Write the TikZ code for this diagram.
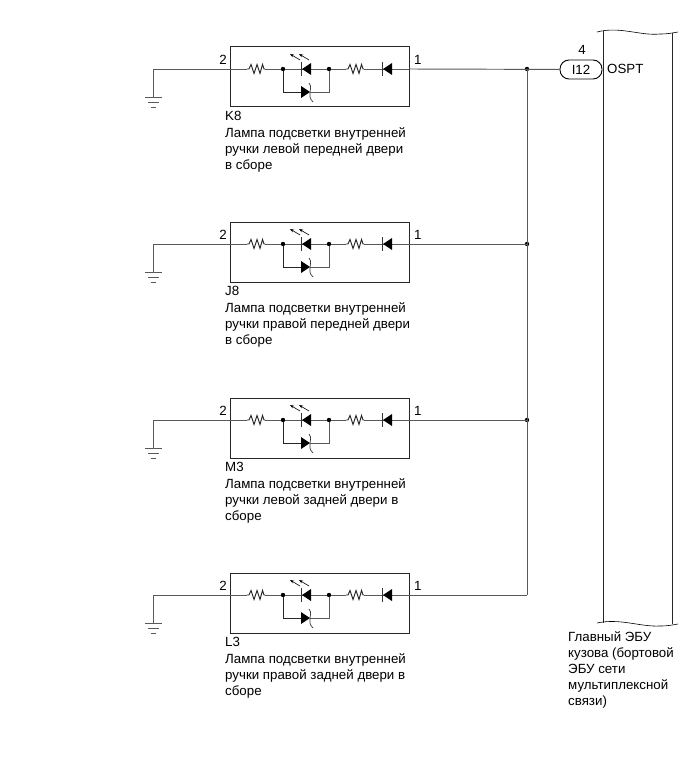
\documentclass[tikz,border=0pt]{standalone}
\usepackage{fontspec}
\setmainfont{Liberation Sans}
\usetikzlibrary{positioning, calc, arrows.meta}
\tikzset{
  wire/.style={line width=0.95pt, black!65},
  frame/.style={draw, line width=1pt, black!85},
  jdot/.style={circle, fill=black, inner sep=0pt, minimum size=4.4pt},
  lbl/.style={font=\fontsize{13.3}{16.2}\selectfont, inner sep=0pt, align=left},
  resist/.pic={\draw[wire, black!85] (0,0) -- (2,0) -- (4,-4.5) -- (7,4.5) -- (10,-4.5) -- (13,4.5) -- (15.5,-4.5) -- (17,0) -- (18,0);}
}
\begin{document}
\begin{tikzpicture}[x=1pt,y=-1pt]
  \useasboundingbox (0,0) rectangle (691,757);

  % Lamp units
  \foreach \yy/\nm/\side in {0/K8/{ручки левой передней двери\\в сборе},
      175/J8/{ручки правой передней двери\\в сборе},
      351/M3/{ручки левой задней двери в\\сборе},
      526/L3/{ручки правой задней двери в\\сборе}} {
    \begin{scope}[shift={(0,\yy)}]
      \node[frame, minimum width=179pt, minimum height=60pt, inner sep=0pt] (box\nm) at (319.5,77) {};
      \coordinate (pinb\nm) at (230,69);
      \coordinate (pina\nm) at (409,69);
      \coordinate (gnd\nm) at (153,97);
      \coordinate (tap\nm) at (527,69);
      \node[lbl, anchor=base east] (two\nm) at (227,64.5) {2};
      \node[lbl, anchor=base west] (one\nm) at (414,64.5) {1};

      % Ground
      \draw[wire] (pinb\nm) -| (gnd\nm);
      \draw[wire] (145,97) -- (162,97);
      \draw[wire] (147.5,102) -- (158.5,102);
      \draw[wire] (151,107) -- (156,107);

      % Upper branch
      \coordinate (ra\nm) at (247,69);
      \coordinate (rb\nm) at (265,69);
      \node[jdot] (dl\nm) at (283,69) {};
      \node[jdot] (dr\nm) at (329,69) {};
      \coordinate (rc\nm) at (346,69);
      \coordinate (rd\nm) at (364,69);
      \draw[wire] (pinb\nm) -- (ra\nm);
      \pic at (ra\nm) {resist};
      \draw[wire] (rb\nm) -- (dl\nm) -- (dr\nm) -- (rc\nm);
      \pic at (rc\nm) {resist};
      \draw[wire] (rd\nm) -- (pina\nm);

      % LED
      \fill (311,63) -- (311,75) -- (302,69) -- cycle;
      \draw[line width=0.9pt, black!80] (301.5,62) -- (301.5,76);
      \draw[-{Stealth[length=4pt,width=3pt]}, line width=0.6pt] (300,60) -- (290,54);
      \draw[-{Stealth[length=4pt,width=3pt]}, line width=0.6pt] (309,60) -- (299,54);

      % Diode
      \fill (392,63) -- (392,75) -- (383,69) -- cycle;
      \draw[line width=0.9pt, black!80] (382.5,62) -- (382.5,76);

      % Lower branch
      \coordinate (zl\nm) at (301,92);
      \coordinate (zr\nm) at (310,92);
      \draw[wire, black!85] (dl\nm) |- (zl\nm);
      \draw[wire] (zr\nm) -| (dr\nm);
      \fill (301,86) -- (301,98) -- (310,92) -- cycle;
      \draw[line width=0.7pt, black!80] (309,83) .. controls (312,87) and (310,89) .. (310,92) .. controls (310,96) and (309,98) .. (313,102);

      % Caption
      \node[lbl, anchor=north west] (cap\nm) at (225,111.5) {\nm\\Лампа подсветки внутренней\\\side};
    \end{scope}
  }

  % Bus
  \node[jdot] at (tapK8) {};
  \node[jdot] at (tapJ8) {};
  \node[jdot] at (tapM3) {};
  \draw[wire] (tapK8) -- (tapL3);
  \draw[wire] (pinaJ8) -- (tapJ8);
  \draw[wire] (pinaM3) -- (tapM3);
  \draw[wire] (pinaL3) -- (tapL3);

  % Connector
  \node[draw, line width=0.9pt, rounded corners=9pt, minimum width=42pt, minimum height=19pt, inner sep=0pt, font=\fontsize{13.3}{14}\selectfont] (i12) at (581,69.5) {I12};
  \node[lbl, anchor=base] (four) at (582,54.5) {4};
  \node[lbl, anchor=base west] (ospt) at (607,73.5) {OSPT};
  \draw[wire] (pinaK8) -- (i12);

  % ECU
  \draw[line width=0.9pt, black!85] (603,31) -- (603,623);
  \draw[line width=0.9pt, black!85] (672,33) -- (672,624);
  \draw[line width=0.6pt] (597,32) .. controls (620,26) and (640,36) .. (660,34) .. controls (668,34) and (672,33) .. (678,32);
  \draw[line width=0.6pt] (597,623) .. controls (620,618) and (640,627) .. (660,626) .. controls (668,626) and (672,625) .. (678,624);
  \node[lbl, anchor=north west] (ecu) at (568,631) {Главный ЭБУ\\кузова (бортовой\\ЭБУ сети\\мультиплексной\\связи)};
\end{tikzpicture}
\end{document}
